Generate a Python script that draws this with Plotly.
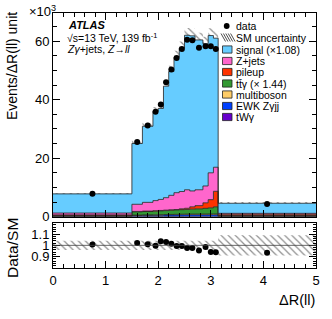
import numpy as np
import plotly.graph_objects as go

# ---------------- data (values in units of 10^3 events) ----------------
bin_edges = [0.0, 1.5, 1.7, 1.9, 2.0, 2.1, 2.2, 2.3, 2.4, 2.5, 2.6, 2.7, 2.85, 2.95, 3.05, 3.14, 5.0]
data_vals = [7.85, 25.5, 31.2, 35.9, 38.3, 45.9, 50.3, 54.2, 57.3, 60.5, 60.3, 57.7, 58.2, 58.2, 57.3, 4.3]
signal = [6.55, 20.76, 26.0, 30.5, 31.1, 38.1, 42.3, 46.3, 49.0, 52.8, 53.0, 51.2, 48.6, 46.9, 44.1, 3.45]
zjets = [0.63, 2.44, 2.98, 3.45, 3.76, 4.26, 4.93, 5.74, 5.90, 6.32, 5.42, 5.41, 5.75, 9.17, 8.22, 0.30]
pileup = [0.25, 0.15, 0.15, 0.15, 0.15, 0.15, 0.15, 0.15, 0.30, 0.40, 0.80, 1.10, 1.90, 2.80, 5.30, 0.45]
ttgamma = [0.15, 1.10, 1.15, 1.25, 1.30, 1.35, 1.45, 1.50, 1.55, 1.60, 1.70, 1.80, 1.95, 2.10, 2.45, 0.20]
multiboson = [0.05, 0.15, 0.16, 0.17, 0.18, 0.19, 0.20, 0.21, 0.22, 0.23, 0.23, 0.24, 0.25, 0.26, 0.27, 0.05]
ewk_zgjj = [0.15, 0.35, 0.40, 0.42, 0.45, 0.48, 0.50, 0.52, 0.55, 0.56, 0.56, 0.55, 0.55, 0.56, 0.55, 0.12]
twgamma = [0.02, 0.05, 0.06, 0.06, 0.06, 0.07, 0.07, 0.08, 0.08, 0.09, 0.09, 0.10, 0.10, 0.11, 0.11, 0.03]
rel_unc = [0.04] * 15 + [0.09]

legend_labels = ["data", "SM uncertainty", "signal (\u00d71.08)", "Z+jets", "pileup",
                 "tt\u0304\u03b3 (\u00d7 1.44)", "multiboson", "EWK Z\u03b3jj", "tW\u03b3"]

# ---------------- derived ----------------
edges = np.array(bin_edges)
centers = 0.5 * (edges[1:] + edges[:-1])
widths = edges[1:] - edges[:-1]
layers = [  # bottom -> top
    (twgamma, "#6600cc"),
    (ewk_zgjj, "#0040ff"),
    (multiboson, "#ffcc66"),
    (ttgamma, "#339933"),
    (pileup, "#ff3300"),
    (zjets, "#ff66cc"),
    (signal, "#66ccff"),
]
cum = np.zeros(len(centers))
total = np.sum([np.array(l[0]) for l in layers], axis=0)
data_arr = np.array(data_vals)
ratio = data_arr / total
rel = np.array(rel_unc)

FONT = "Liberation Sans, Arial, Helvetica, sans-serif"
W, H = 332, 319
L, R, T, B = 53, 16, 13, 51
PW, PH = W - L - R, H - T - B


def xp(px):
    return (px - L) / PW


def yp(py):
    return (H - B - py) / PH


fig = go.Figure()

# stacked step histograms
for i, (vals, col) in enumerate(layers):
    cum = cum + np.array(vals)
    fig.add_trace(go.Scatter(
        x=edges, y=list(cum) + [cum[-1]], mode="lines", line_shape="hv",
        line=dict(color="#222222", width=0.8),
        fill="tozeroy" if i == 0 else "tonexty", fillcolor=col,
        xaxis="x", yaxis="y", hoverinfo="skip", showlegend=False))

# SM uncertainty (main)
fig.add_trace(go.Bar(
    x=centers, width=widths, base=total * (1 - rel), y=total * 2 * rel,
    marker=dict(color="rgba(0,0,0,0)", line=dict(width=0),
                pattern=dict(shape="\\", fgcolor="#222222", bgcolor="rgba(0,0,0,0)",
                             size=5, solidity=0.25, fillmode="overlay")),
    xaxis="x", yaxis="y", showlegend=False, hoverinfo="skip"))

# data points
fig.add_trace(go.Scatter(
    x=centers, y=data_arr, mode="markers",
    marker=dict(color="black", size=6, symbol="circle"),
    xaxis="x", yaxis="y", showlegend=False))

# ratio band
fig.add_trace(go.Bar(
    x=centers, width=widths, base=1 - rel, y=2 * rel,
    marker=dict(color="rgba(0,0,0,0)", line=dict(width=0),
                pattern=dict(shape="\\", fgcolor="#222222", bgcolor="rgba(0,0,0,0)",
                             size=5, solidity=0.25, fillmode="overlay")),
    xaxis="x2", yaxis="y2", showlegend=False, hoverinfo="skip"))

fig.add_trace(go.Scatter(
    x=centers, y=ratio, mode="markers",
    marker=dict(color="black", size=6, symbol="circle"),
    xaxis="x2", yaxis="y2", showlegend=False))

main_dom = [yp(216.7), 1.0]
ratio_dom = [0.0, yp(222.7)]

axis_common = dict(showline=True, linecolor="black", linewidth=1, mirror="allticks",
                   ticks="inside", tickcolor="black", showgrid=False, zeroline=False,
                   tickfont=dict(family=FONT, size=13, color="black"))

fig.update_layout(
    width=W, height=H, margin=dict(l=L, r=R, t=T, b=B),
    paper_bgcolor="white", plot_bgcolor="white", barmode="overlay", showlegend=False,
    xaxis=dict(domain=[0, 1], range=[0, 5], anchor="y", showticklabels=False,
               dtick=1, ticklen=7, tickwidth=1,
               minor=dict(dtick=0.2, ticklen=4, ticks="inside", tickcolor="black"),
               **axis_common),
    yaxis=dict(domain=main_dom, range=[0, 69.6], anchor="x", dtick=20, ticklen=7,
               minor=dict(dtick=5, ticklen=4, ticks="inside", tickcolor="black"),
               **axis_common),
    xaxis2=dict(domain=[0, 1], range=[0, 5], anchor="y2", matches="x",
                dtick=1, ticklen=7, tickwidth=1,
                minor=dict(dtick=0.2, ticklen=4, ticks="inside", tickcolor="black"),
                **axis_common),
    yaxis2=dict(domain=ratio_dom, range=[0.8, 1.2], anchor="x2",
                tickvals=[0.9, 1.0, 1.1], ticktext=["0.9", "1", "1.1"], ticklen=7,
                minor=dict(dtick=0.02, ticklen=3, ticks="inside", tickcolor="black"),
                **axis_common),
)

fig.add_shape(type="line", xref="x2", yref="y2", x0=0, x1=5, y0=1, y1=1,
              line=dict(color="#444444", width=0.8))

ann = []


def text(px, py, s, size, xanchor="left", yanchor="middle", angle=0, **kw):
    ann.append(dict(x=xp(px), y=yp(py), xref="paper", yref="paper", text=s,
                    showarrow=False, xanchor=xanchor, yanchor=yanchor, textangle=angle,
                    font=dict(family=FONT, size=size, color="black"), **kw))


# axis titles
text(12, 10, "Events/\u0394R(ll) unit", 14, xanchor="center", yanchor="top", angle=-90)
text(12, 248, "Data/SM", 15.5, xanchor="center", yanchor="middle", angle=-90)
text(317, 300, "\u0394R(ll)", 14.5, xanchor="right", yanchor="middle")
text(27, 11, "\u00d710<sup>3</sup>", 13, xanchor="left", yanchor="middle")

# ATLAS label
text(66, 25, "<b><i>ATLAS</i></b>", 11)
text(65, 37, "\u221as=13 TeV, 139 fb<sup>-1</sup>", 10.5)
text(65, 49, "<i>Z\u03b3</i>+jets, <i>Z</i>\u2192<i>ll</i>", 10.5)

# manual legend
row_y = [26, 37.5, 49.5, 61, 72, 83.5, 94.5, 106, 117]
for lab, y in zip(legend_labels, row_y):
    text(234, y, lab, 10.5)

shapes = []
# data marker
shapes.append(dict(type="circle", xref="paper", yref="paper",
                   x0=xp(223.8), x1=xp(229.6), y0=yp(28.9), y1=yp(23.1),
                   fillcolor="black", line=dict(width=0)))
# hatch symbol
for k in range(5):
    xs = 221 + k * 2.4
    shapes.append(dict(type="line", xref="paper", yref="paper",
                       x0=xp(xs), y0=yp(33.5), x1=xp(xs + 4.5), y1=yp(41.5),
                       line=dict(color="#222222", width=0.8)))
legend_colors = [c for _, c in layers][::-1]
for col, y in zip(legend_colors, row_y[2:]):
    shapes.append(dict(type="rect", xref="paper", yref="paper",
                       x0=xp(222.5), x1=xp(232), y0=yp(y + 3.6), y1=yp(y - 3.6),
                       fillcolor=col, line=dict(color="#222222", width=0.8)))

fig.update_layout(annotations=ann)
for s in shapes:
    fig.add_shape(**s)

fig.write_html("out.html", config={"displayModeBar": False},
               post_script="document.body.style.margin='0';document.body.style.overflow='hidden';")
